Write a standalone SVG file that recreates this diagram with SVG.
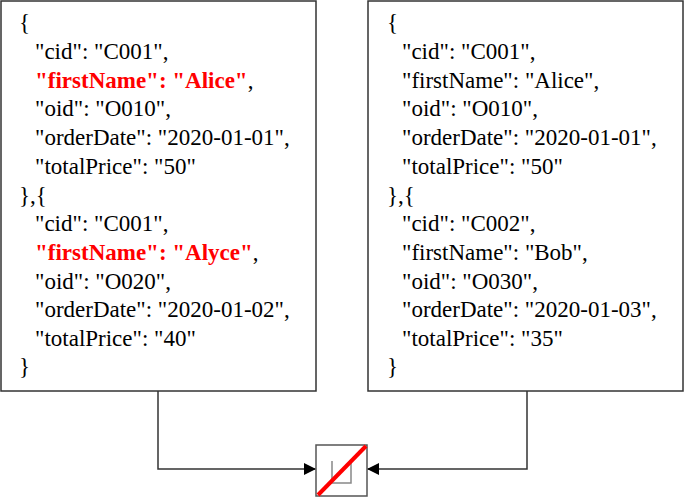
<svg xmlns="http://www.w3.org/2000/svg" width="685" height="497" viewBox="0 0 685 497">
<style>
.box{fill:#fff;stroke:#333;stroke-width:1.5}
.t{font-family:"Liberation Serif","Times New Roman",serif;font-size:23px;fill:#000}
.r{fill:#ff0000;font-weight:bold}
.c{fill:none;stroke:#333;stroke-width:1.5}
</style>
<defs>
<marker id="ah" markerWidth="12" markerHeight="12" refX="11" refY="6" orient="auto" markerUnits="userSpaceOnUse">
<path d="M0,0 L12,6 L0,12 Z" fill="#000"/>
</marker>
</defs>
<g id="left">
<rect class="box" x="1" y="1" width="315" height="390"/>
<text class="t" x="19" y="30">{</text>
<text class="t" x="35" y="59">"cid": "C001",</text>
<text class="t" x="35" y="88"><tspan class="r">"firstName": "Alice"</tspan>,</text>
<text class="t" x="35" y="116">"oid": "O010",</text>
<text class="t" x="35" y="145">"orderDate": "2020-01-01",</text>
<text class="t" x="35" y="174">"totalPrice": "50"</text>
<text class="t" x="19" y="203">},{</text>
<text class="t" x="35" y="231">"cid": "C001",</text>
<text class="t" x="35" y="260"><tspan class="r">"firstName": "Alyce"</tspan>,</text>
<text class="t" x="35" y="289">"oid": "O020",</text>
<text class="t" x="35" y="317">"orderDate": "2020-01-02",</text>
<text class="t" x="35" y="346">"totalPrice": "40"</text>
<text class="t" x="19" y="374">}</text>
</g>
<g id="right">
<rect class="box" x="368" y="1" width="315" height="390"/>
<text class="t" x="387" y="30">{</text>
<text class="t" x="402" y="59">"cid": "C001",</text>
<text class="t" x="402" y="88">"firstName": "Alice",</text>
<text class="t" x="402" y="116">"oid": "O010",</text>
<text class="t" x="402" y="145">"orderDate": "2020-01-01",</text>
<text class="t" x="402" y="174">"totalPrice": "50"</text>
<text class="t" x="387" y="203">},{</text>
<text class="t" x="402" y="231">"cid": "C002",</text>
<text class="t" x="402" y="260">"firstName": "Bob",</text>
<text class="t" x="402" y="289">"oid": "O030",</text>
<text class="t" x="402" y="317">"orderDate": "2020-01-03",</text>
<text class="t" x="402" y="346">"totalPrice": "35"</text>
<text class="t" x="387" y="374">}</text>
</g>
<g id="join">
<rect x="316" y="445" width="51" height="51" fill="#fff" stroke="#555" stroke-width="1.5"/>
<path d="M332,461 V483 H351 V461" fill="none" stroke="#888" stroke-width="1.5"/>
<line x1="318" y1="495" x2="366" y2="446" stroke="#ff0000" stroke-width="4"/>
</g>
<g id="connectors">
<path class="c" d="M158,391 V469 H315" marker-end="url(#ah)"/>
<path class="c" d="M527,391 V469 H368" marker-end="url(#ah)"/>
</g>
</svg>
